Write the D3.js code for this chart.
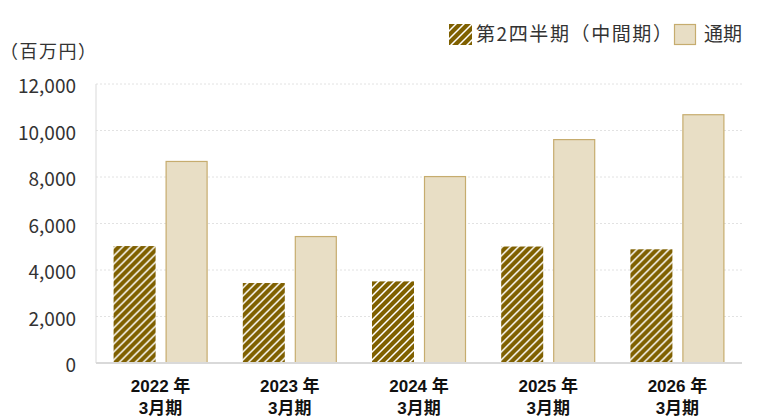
<!DOCTYPE html>
<html><head><meta charset="utf-8">
<script src="https://cdn.jsdelivr.net/npm/d3@7"></script>
<style>
html,body{margin:0;padding:0;background:#fff;}
svg{display:block;}
text{font-family:"Noto Sans CJK JP","Liberation Sans",sans-serif;}
</style></head>
<body><svg id="c" width="770" height="420"></svg>
<script>
const categories = ["2022", "2023", "2024", "2025", "2026"];
const seriesNames = ["第2四半期（中間期）", "通期"];
const interimValues = [5030, 3440, 3510, 5010, 4890];
const fullYearValues = [8690, 5460, 8040, 9630, 10700];
const yTicks = [0, 2000, 4000, 6000, 8000, 10000, 12000];
const unitLabel = "（百万円）";

const svg = d3.select("#c");
const pLeft = 96, pRight = 742, pTop = 84, pBottom = 363;

const defs = svg.append("defs");
const pat = defs.append("pattern").attr("id","hatch").attr("patternUnits","userSpaceOnUse")
  .attr("width",8).attr("height",8);
pat.append("rect").attr("width",8).attr("height",8).attr("fill","#7F6000");
pat.append("path").attr("d","M-2,2 L2,-2 M0,8 L8,0 M6,10 L10,6")
  .attr("stroke","#fff").attr("stroke-width",1.5);

const x0 = d3.scaleBand().domain(categories).range([pLeft, pRight]).paddingInner(0.2724).paddingOuter(0.1362);
const x1 = d3.scaleBand().domain([0,1]).range([0, x0.bandwidth()]).paddingInner(0.1923);
const y = d3.scaleLinear().domain([0, 12000]).range([pBottom, pTop]);

// gridlines
svg.append("g").selectAll("line").data(yTicks.filter(d=>d>0)).join("line")
  .attr("x1", pLeft).attr("x2", pRight)
  .attr("y1", d=>y(d)).attr("y2", d=>y(d))
  .attr("stroke","#e2e2e2").attr("stroke-width",1).attr("stroke-dasharray","2,2");

// y tick labels via axis
const yAxis = d3.axisLeft(y).tickValues(yTicks).tickFormat(d3.format(",")).tickSize(0).tickPadding(20);
const ya = svg.append("g").attr("transform",`translate(${pLeft},0)`).call(yAxis);
ya.select(".domain").remove();
ya.selectAll("text").attr("font-size",19)
  .attr("fill","#333").attr("dy","0.45em");

// left axis line
svg.append("line").attr("x1",pLeft).attr("x2",pLeft).attr("y1",pTop).attr("y2",pBottom)
  .attr("stroke","#d9d9d9").attr("stroke-width",1);

// bars
const groups = svg.append("g").selectAll("g").data(categories).join("g")
  .attr("transform", d=>`translate(${x0(d)},0)`);
groups.append("rect")
  .attr("x", x1(0)).attr("width", x1.bandwidth())
  .attr("y", (d,i)=>y(interimValues[i])).attr("height",(d,i)=>y(0)-y(interimValues[i]))
  .attr("fill","url(#hatch)");
groups.append("rect")
  .attr("x", x1(1)+0.5).attr("width", x1.bandwidth()-1)
  .attr("y", (d,i)=>y(fullYearValues[i])+0.5).attr("height",(d,i)=>y(0)-y(fullYearValues[i])-0.5)
  .attr("fill","#E8DEC5").attr("stroke","#C6AC6E").attr("stroke-width",1.2);

// baseline
svg.append("line").attr("x1",pLeft).attr("x2",pRight).attr("y1",pBottom).attr("y2",pBottom)
  .attr("stroke","#d9d9d9").attr("stroke-width",2);

// x labels (two separate lines)
const cx = d => x0(d)+x0.bandwidth()/2;
const xFont = "'Liberation Sans','Noto Sans CJK JP',sans-serif";
svg.append("g").selectAll("text").data(categories).join("text")
  .attr("x", cx).attr("y",392).attr("text-anchor","middle")
  .style("font-family", xFont)
  .attr("font-size",17).attr("font-weight","bold").attr("fill","#111")
  .text(d=>d+" 年");
svg.append("g").selectAll("text").data(categories).join("text")
  .attr("x", cx).attr("y",414).attr("text-anchor","middle")
  .style("font-family", xFont)
  .attr("font-size",17).attr("font-weight","bold").attr("fill","#111")
  .text("3月期");

// unit label
svg.append("text").attr("x",0).attr("y",58).attr("font-size",18).attr("fill","#333")
  .attr("letter-spacing",1.5).text(unitLabel);

// legend
const lg = svg.append("g");
lg.append("rect").attr("x",449).attr("y",24).attr("width",23).attr("height",21).attr("fill","url(#hatch)");
lg.append("text").attr("x",476).attr("y",41).attr("font-size",19).attr("fill","#333")
  .attr("letter-spacing",1.6).text(seriesNames[0]);
lg.append("rect").attr("x",674.5).attr("y",24.5).attr("width",21).attr("height",20)
  .attr("fill","#E8DEC5").attr("stroke","#C6AC6E").attr("stroke-width",1.2);
lg.append("text").attr("x",704).attr("y",41).attr("font-size",19).attr("fill","#333")
  .text(seriesNames[1]);
</script></body></html>
